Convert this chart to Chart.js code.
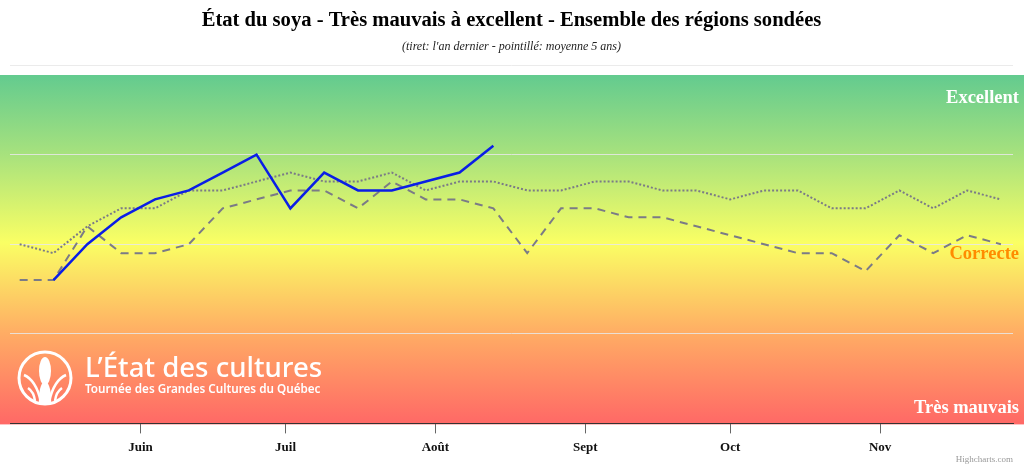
<!DOCTYPE html>
<html>
<head>
<meta charset="utf-8">
<script src="https://cdn.jsdelivr.net/npm/chart.js@4/dist/chart.umd.min.js"></script>
<style>
  html, body { margin: 0; padding: 0; background: #fff; }
  #wrap { width: 1024px; height: 468px; position: relative; }
</style>
</head>
<body>
<div id="wrap"><canvas id="etatChart"></canvas></div>
<script>
// semaines (mois-jour) des relevés
var semaines = ['05-07', '05-14', '05-21', '05-28', '06-04', '06-11', '06-18', '06-25',
                '07-02', '07-09', '07-16', '07-23', '07-30', '08-06', '08-13', '08-20',
                '08-27', '09-03', '09-10', '09-17', '09-24', '10-01', '10-08', '10-15',
                '10-22', '10-29', '11-05', '11-12', '11-19', '11-26'];

// 1 = très mauvais ... 5 = excellent
var cetteAnnee = [null, 2.6, 3.0, 3.3, 3.5, 3.6, 3.8, 4.0, 3.4, 3.8, 3.6, 3.6, 3.7, 3.8, 4.1];
var anDernier = [2.6, 2.6, 3.2, 2.9, 2.9, 3.0, 3.4, 3.5, 3.6, 3.6, 3.4, 3.7, 3.5, 3.5, 3.4,
                 2.9, 3.4, 3.4, 3.3, 3.3, 3.2, 3.1, 3.0, 2.9, 2.9, 2.7, 3.1, 2.9, 3.1, 3.0];
var moyenne5ans = [3.0, 2.9, 3.2, 3.4, 3.4, 3.6, 3.6, 3.7, 3.8, 3.7, 3.7, 3.8, 3.6, 3.7, 3.7,
                   3.6, 3.6, 3.7, 3.7, 3.6, 3.6, 3.5, 3.6, 3.6, 3.4, 3.4, 3.6, 3.4, 3.6, 3.5];

var debutsMois = ['06-01', '07-01', '08-01', '09-01', '10-01', '11-01'];
var nomsMois = ['Juin', 'Juil', 'Août', 'Sept', 'Oct', 'Nov'];

var cumul = [0, 31, 59, 90, 120, 151, 181, 212, 243, 273, 304, 334];
function jourAnnee(s) {
    var p = s.split('-');
    return cumul[parseInt(p[0], 10) - 1] + parseInt(p[1], 10);
}

function points(valeurs) {
    var out = [];
    for (var i = 0; i < valeurs.length; i++) {
        out.push({ x: jourAnnee(semaines[i]), y: valeurs[i] });
    }
    return out;
}

// fond dégradé + libellés + logo
var decor = {
    id: 'decor',
    beforeDraw: function (chart) {
        var ctx = chart.ctx;
        var y = chart.scales.y;
        var top = 75, bottom = y.bottom + 1;
        var g = ctx.createLinearGradient(0, top, 0, bottom);
        g.addColorStop(0, 'rgb(99,203,143)');
        g.addColorStop(0.23, 'rgb(168,226,125)');
        g.addColorStop(0.48, 'rgb(250,255,100)');
        g.addColorStop(0.74, 'rgb(255,172,100)');
        g.addColorStop(1, 'rgb(255,104,102)');
        ctx.save();
        ctx.fillStyle = g;
        ctx.fillRect(0, top, chart.width, bottom - top);
        ctx.restore();
    },
    afterDatasetsDraw: function (chart) {
        var ctx = chart.ctx;
        ctx.save();
        ctx.textAlign = 'right';
        ctx.textBaseline = 'middle';
        ctx.font = 'bold 18.5px "Liberation Serif"';
        ctx.fillStyle = '#ffffff';
        ctx.fillText('Excellent', 1019, 98);
        ctx.fillText('Très mauvais', 1019, 408);
        ctx.fillStyle = '#ff8c00';
        ctx.fillText('Correcte', 1019, 254);

        ctx.font = '9px "Liberation Serif"';
        ctx.fillStyle = '#999999';
        ctx.fillText('Highcharts.com', 1013, 460);

        // logo
        ctx.strokeStyle = '#ffffff';
        ctx.fillStyle = '#ffffff';
        ctx.lineWidth = 3;
        ctx.beginPath();
        ctx.arc(45, 378, 26, 0, Math.PI * 2);
        ctx.stroke();
        ctx.beginPath();
        ctx.ellipse(45, 371, 6, 14, 0, 0, Math.PI * 2);
        ctx.fill();
        ctx.lineWidth = 2.5;
        ctx.beginPath();
        ctx.moveTo(24, 375); ctx.quadraticCurveTo(36, 380, 41, 402);
        ctx.moveTo(66, 375); ctx.quadraticCurveTo(54, 380, 49, 402);
        ctx.moveTo(28, 388); ctx.quadraticCurveTo(34, 392, 35, 401);
        ctx.moveTo(62, 388); ctx.quadraticCurveTo(56, 392, 55, 401);
        ctx.stroke();
        ctx.beginPath();
        ctx.moveTo(39, 404); ctx.quadraticCurveTo(38, 386, 45, 380);
        ctx.quadraticCurveTo(52, 386, 51, 404); ctx.closePath();
        ctx.fill();

        ctx.textAlign = 'left';
        ctx.textBaseline = 'alphabetic';
        ctx.font = '500 28px "Noto Sans"';
        var w = ctx.measureText('L’État des cultures').width;
        ctx.font = '500 ' + (28 * 237 / w).toFixed(1) + 'px "Noto Sans"';
        ctx.fillText('L’État des cultures', 85, 377);
        ctx.font = '600 12px "Noto Sans"';
        w = ctx.measureText('Tournée des Grandes Cultures du Québec').width;
        ctx.font = '600 ' + (12 * 235 / w).toFixed(1) + 'px "Noto Sans"';
        ctx.fillText('Tournée des Grandes Cultures du Québec', 85, 393);
        ctx.restore();
    }
};

var ctx = document.getElementById('etatChart').getContext('2d');
var etatChart = new Chart(ctx, {
    type: 'line',
    data: {
        datasets: [{
            label: 'Cette année',
            data: points(cetteAnnee),
            borderColor: '#0a1ee6',
            borderWidth: 2.5,
            order: 0
        }, {
            label: "L'an dernier",
            data: points(anDernier),
            borderColor: '#7b7b86',
            borderWidth: 2,
            borderDash: [8, 6],
            order: 1
        }, {
            label: 'Moyenne 5 ans',
            data: points(moyenne5ans),
            borderColor: '#7b7b86',
            borderWidth: 2,
            borderDash: [2, 2],
            order: 2
        }]
    },
    options: {
        responsive: true,
        maintainAspectRatio: false,
        animation: false,
        spanGaps: false,
        elements: {
            point: { radius: 0, hoverRadius: 0 },
            line: { tension: 0, fill: false, borderCapStyle: 'butt' }
        },
        layout: { padding: { left: 10, right: 11, top: 0, bottom: 7 } },
        plugins: {
            legend: { display: false },
            tooltip: { enabled: false },
            title: {
                display: true,
                text: 'État du soya - Très mauvais à excellent - Ensemble des régions sondées',
                color: '#000000',
                font: { family: '"Liberation Serif"', size: 20.6, weight: 'bold' },
                padding: { top: 8, bottom: 7 }
            },
            subtitle: {
                display: true,
                text: "(tiret: l'an dernier - pointillé: moyenne 5 ans)",
                color: '#222222',
                font: { family: '"Liberation Serif"', size: 12, style: 'italic' },
                padding: { top: 0, bottom: 10.9 }
            }
        },
        scales: {
            x: {
                type: 'linear',
                min: 125,
                max: 332.5,
                afterBuildTicks: function (scale) {
                    scale.ticks = debutsMois.map(function (m) { return { value: jourAnnee(m) }; });
                },
                ticks: {
                    autoSkip: false,
                    maxRotation: 0,
                    padding: 6,
                    color: '#111111',
                    font: { family: '"Liberation Serif"', size: 13, weight: 'bold' },
                    callback: function (value, index) { return nomsMois[index]; }
                },
                grid: { drawOnChartArea: false, drawTicks: true, tickLength: 10, color: '#666666' },
                border: { display: true, color: '#333333', width: 1 }
            },
            y: {
                min: 1,
                max: 5,
                ticks: { display: false, stepSize: 1 },
                grid: { drawTicks: false, color: 'rgba(232,232,232,0.85)', lineWidth: 1 },
                border: { display: false }
            }
        }
    },
    plugins: [decor]
});
</script>
</body>
</html>
